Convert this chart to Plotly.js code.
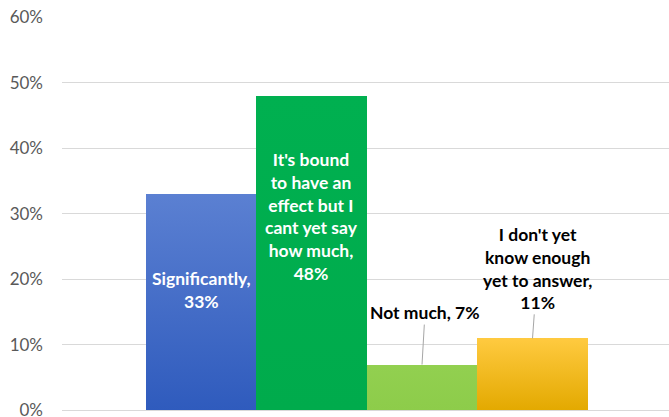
<!DOCTYPE html>
<html>
<head>
<meta charset="utf-8">
<script src="https://cdn.plot.ly/plotly-3.0.1.min.js"></script>
<style>html,body{margin:0;padding:0;background:#fff}#chart{width:669px;height:417px}</style>
</head>
<body>
<div id="chart"></div>
<script>
const categories = ["Significantly", "It's bound to have an effect but I cant yet say how much", "Not much", "I don't yet know enough yet to answer"];
const values = [0.33, 0.48, 0.07, 0.11];
const labelTexts = ["Significantly,<br>33%", "It's bound<br>to have an<br>effect but I<br>cant yet say<br>how much,<br>48%", "Not much, 7%", "I don't yet<br>know enough<br>yet to answer,<br>11%"];
const tickValues = [0, 0.1, 0.2, 0.3, 0.4, 0.5, 0.6];
const tickLabels = ["0%", "10%", "20%", "30%", "40%", "50%", "60%"];

const barColors = ["#4169c6", "#00b050", "#92d050", "#ffc000"];
const FONT = "Lato, 'Open Sans', sans-serif";

const trace = {
  type: "bar",
  x: categories,
  y: values,
  marker: { color: barColors, line: { width: 0 } },
  hoverinfo: "none"
};

const annotations = [
  { x: categories[0], y: 0.183, text: labelTexts[0], showarrow: false,
    font: { family: FONT, size: 17.5, color: "#ffffff", weight: 700 } },
  { x: categories[1], y: 0.296, text: labelTexts[1], showarrow: false,
    font: { family: FONT, size: 17.5, color: "#ffffff", weight: 700 } },
  { x: categories[2], y: values[2], text: labelTexts[2], showarrow: true,
    arrowhead: 0, arrowwidth: 1, arrowcolor: "#a6a6a6", ax: 3, ay: -52,
    font: { family: FONT, size: 17.5, color: "#000000", weight: 700 } },
  { x: categories[3], y: values[3], text: labelTexts[3], showarrow: true,
    arrowhead: 0, arrowwidth: 1, arrowcolor: "#a6a6a6", ax: 5, ay: -70,
    font: { family: FONT, size: 17.5, color: "#000000", weight: 700 } }
];

const layout = {
  width: 669, height: 417,
  margin: { l: 62, r: 0, t: 17, b: 6 },
  paper_bgcolor: "#ffffff", plot_bgcolor: "#ffffff",
  bargap: 0,
  showlegend: false,
  xaxis: { type: "category", range: [-1.258, 4.235], showticklabels: false,
           showgrid: false, zeroline: false, showline: false, fixedrange: true },
  yaxis: { range: [-0.0008, 0.6], tickvals: tickValues, ticktext: tickLabels,
           showgrid: true, gridcolor: "#d9d9d9", gridwidth: 1,
           zeroline: true, zerolinecolor: "#d9d9d9", zerolinewidth: 1,
           showline: false, ticks: "", ticklabelstandoff: 18,
           ticklabeloverflow: "allow",
           tickfont: { family: FONT, size: 17, color: "#595959" } },
  annotations: annotations
};

Plotly.newPlot("chart", [trace], layout, { displayModeBar: false, staticPlot: true }).then(function (gd) {
  const svg = gd.querySelector(".main-svg");
  const ns = "http://www.w3.org/2000/svg";
  const grads = [
    ["#5b80d2", "#2f5bbd"],
    ["#00b050", "#00ab4c"],
    ["#92d050", "#8dcc4a"],
    ["#ffca40", "#e3a900"]
  ];
  const defs = document.createElementNS(ns, "defs");
  grads.forEach(function (g, i) {
    const lg = document.createElementNS(ns, "linearGradient");
    lg.setAttribute("id", "bargrad" + i);
    lg.setAttribute("x1", "0"); lg.setAttribute("y1", "0");
    lg.setAttribute("x2", "0"); lg.setAttribute("y2", "1");
    [[0, g[0]], [1, g[1]]].forEach(function (s) {
      const st = document.createElementNS(ns, "stop");
      st.setAttribute("offset", s[0]);
      st.setAttribute("stop-color", s[1]);
      lg.appendChild(st);
    });
    defs.appendChild(lg);
  });
  svg.insertBefore(defs, svg.firstChild);
  gd.querySelectorAll(".bars .point path").forEach(function (p, i) {
    p.style.fill = "url(#bargrad" + i + ")";
  });
});
</script>
</body>
</html>
